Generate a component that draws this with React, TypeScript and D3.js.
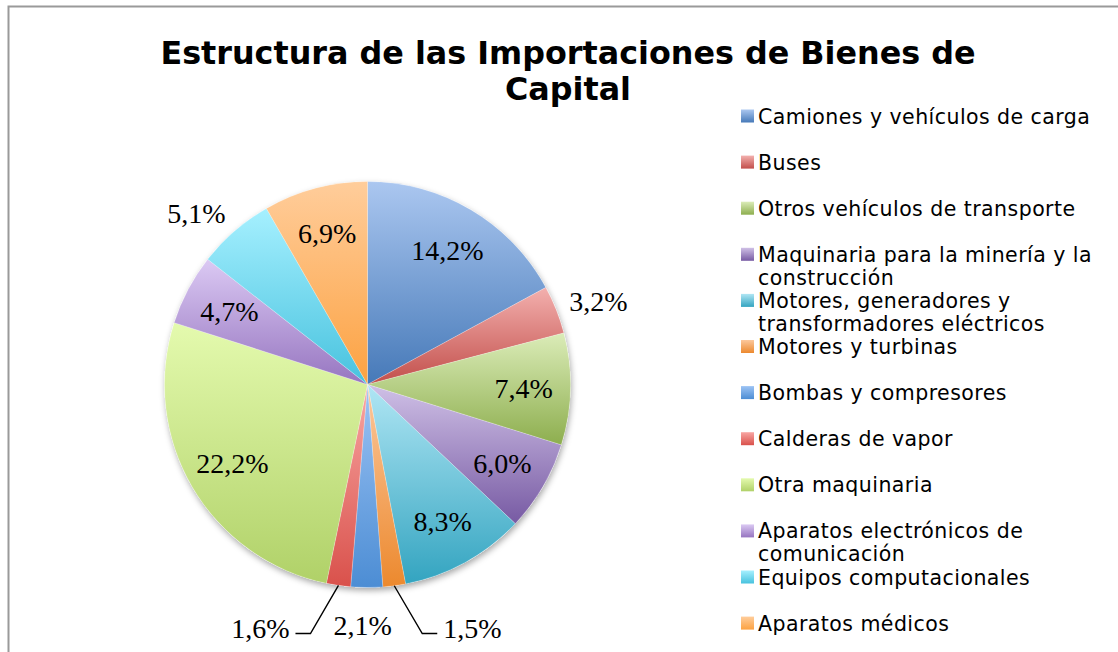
import React from 'react';
import * as d3 from 'd3';

const titleLines = ['Estructura de las Importaciones de Bienes de', 'Capital'];

const categories = [
  'Camiones y vehículos de carga',
  'Buses',
  'Otros vehículos de transporte',
  'Maquinaria para la minería y la construcción',
  'Motores, generadores y transformadores eléctricos',
  'Motores y turbinas',
  'Bombas y compresores',
  'Calderas de vapor',
  'Otra maquinaria',
  'Aparatos electrónicos de comunicación',
  'Equipos computacionales',
  'Aparatos médicos',
];

const values = [14.2, 3.2, 7.4, 6.0, 8.3, 1.5, 2.1, 1.6, 22.2, 4.7, 5.1, 6.9];

const topColors = [
  '#abc7f0', '#f3b0ae', '#dbecb8', '#cfc0e6', '#b0e6f4', '#fcc89d',
  '#9cc3f4', '#f8a6a3', '#e4faae', '#dbc9f3', '#a6f0ff', '#ffcd9b',
];
const bottomColors = [
  '#4679b8', '#c24f4b', '#8dae4e', '#775aa3', '#33a4c0', '#ec892e',
  '#4c8dd4', '#d9514b', '#b0d168', '#9675c0', '#47c2de', '#fca242',
];

// label placement style per slice
const labelModes = [
  'inside', 'outside', 'inside', 'inside', 'inside', 'leader',
  'leader', 'leader', 'inside', 'inside', 'outside', 'inside',
];

const fmt = (v: number) => v.toFixed(1).replace('.', ',') + '%';

export default function App() {
  const W = 1118;
  const H = 652;
  const cx = 367.5;
  const cy = 384.5;
  const r = 203;

  const pie = d3.pie<number>().sort(null).value((d) => d);
  const arcs = pie(values);
  const arcGen = d3.arc<d3.PieArcDatum<number>>().innerRadius(0).outerRadius(r);
  const mid = (a: d3.PieArcDatum<number>) => (a.startAngle + a.endAngle) / 2;
  const ray = (ang: number, rad: number) => [cx + rad * Math.sin(ang), cy - rad * Math.cos(ang)];

  const canvas = document.createElement('canvas');
  const ctx = canvas.getContext('2d')!;

  const legendFont = 20.5;
  const legendSpacing = 0.45;
  ctx.font = `${legendFont}px "DejaVu Sans"`;
  const measureLegend = (t: string) => ctx.measureText(t).width + t.length * legendSpacing;
  const wrap = (text: string, maxW: number) => {
    const words = text.split(' ');
    const lines: string[] = [];
    let cur = '';
    for (const w of words) {
      const t = cur ? cur + ' ' + w : w;
      if (measureLegend(t) > maxW && cur) {
        lines.push(cur);
        cur = w;
      } else cur = t;
    }
    if (cur) lines.push(cur);
    return lines;
  };
  const legendLines = categories.map((c) => wrap(c, 342));

  const labelFont = 28;
  ctx.font = `${labelFont}px "Liberation Serif"`;
  const labelW = values.map((v) => ctx.measureText(fmt(v)).width);
  const labelH = 18;

  const legendY = d3
    .scaleLinear()
    .domain([0, categories.length - 1])
    .range([116, 116 + (categories.length - 1) * 46.1]);

  const labels = arcs.map((a, i) => {
    const m = mid(a);
    const mode = labelModes[i];
    const text = fmt(values[i]);
    if (mode === 'inside') {
      const [x, y] = ray(m, r * 0.77);
      return { text, x, y, anchor: 'middle', line: null as null | string };
    }
    if (mode === 'outside') {
      const [px, py] = ray(m, r + 14);
      const x = px + (labelW[i] / 2) * Math.sign(Math.sin(m));
      const y = py - (labelH / 2) * Math.cos(m);
      return { text, x, y, anchor: 'middle', line: null };
    }
    // leader
    const [ax, ay] = ray(m, r);
    const ly = cy + r + 41;
    const d = Math.abs(ax - cx) > 10 ? Math.sign(ax - cx) : 0;
    if (d === 0) {
      return { text, x: ax - 4, y: ly - 3, anchor: 'middle', line: null };
    }
    const ey = ly + 5;
    const ex = ax + d * 28;
    const hx = ex + d * 15;
    const path = d3.line()([
      [ax, ay],
      [ex, ey],
      [hx, ey],
    ]);
    return {
      text,
      x: hx + d * 6,
      y: ly,
      anchor: d > 0 ? 'start' : 'end',
      line: path,
    };
  });

  return (
    <svg
      width={W}
      height={H}
      style={{ position: 'absolute', left: 0, top: 0, background: '#fff' }}
    >
      <defs>
        {categories.map((_, i) => (
          <linearGradient key={i} id={`g${i}`} x1="0" y1="0" x2="0" y2="1">
            <stop offset="0%" stopColor={topColors[i]} />
            <stop offset="100%" stopColor={bottomColors[i]} />
          </linearGradient>
        ))}
        <filter id="shadow" x="-20%" y="-20%" width="140%" height="140%">
          <feDropShadow dx="1" dy="3" stdDeviation="3" floodColor="#000" floodOpacity="0.35" />
        </filter>
      </defs>

      <rect x={0} y={0} width={W} height={H} fill="#fff" />
      <path d={`M8.5,${H + 5} L8.5,6.5 L${W + 5},6.5`} fill="none" stroke="#9a9a9a" strokeWidth={2} />

      {titleLines.map((t, i) => (
        <text
          key={i}
          x={568}
          y={64 + i * 36}
          textAnchor="middle"
          fontFamily='"DejaVu Sans", Verdana, sans-serif'
          fontWeight="bold"
          fontSize={31.8}
          fill="#000"
        >
          {t}
        </text>
      ))}

      <circle cx={cx} cy={cy} r={r} fill="#fff" filter="url(#shadow)" />
      <g transform={`translate(${cx},${cy})`}>
        {arcs.map((a, i) => (
          <path
            key={i}
            d={arcGen(a) || ''}
            fill={`url(#g${i})`}
            stroke="#ffffff"
            strokeOpacity={0.35}
            strokeWidth={0.6}
          />
        ))}
      </g>

      {labels.map((l, i) => (
        <g key={i}>
          {l.line && <path d={l.line} fill="none" stroke="#000" strokeWidth={1.4} />}
          <text
            x={l.x}
            y={l.y + 9.5}
            textAnchor={l.anchor as any}
            fontFamily='"Liberation Serif", Cambria, serif'
            fontSize={labelFont}
            fill="#000"
          >
            {l.text}
          </text>
        </g>
      ))}

      {categories.map((c, i) => {
        const y = legendY(i);
        return (
          <g key={i}>
            <rect x={741} y={y - 6.5} width={13} height={13} fill={`url(#g${i})`} />
            {legendLines[i].map((ln, j) => (
              <text
                key={j}
                x={758}
                y={y + 7.5 + j * 23}
                fontFamily='"DejaVu Sans", Verdana, sans-serif'
                fontSize={legendFont}
                letterSpacing={legendSpacing}
                fill="#000"
              >
                {ln}
              </text>
            ))}
          </g>
        );
      })}
    </svg>
  );
}
